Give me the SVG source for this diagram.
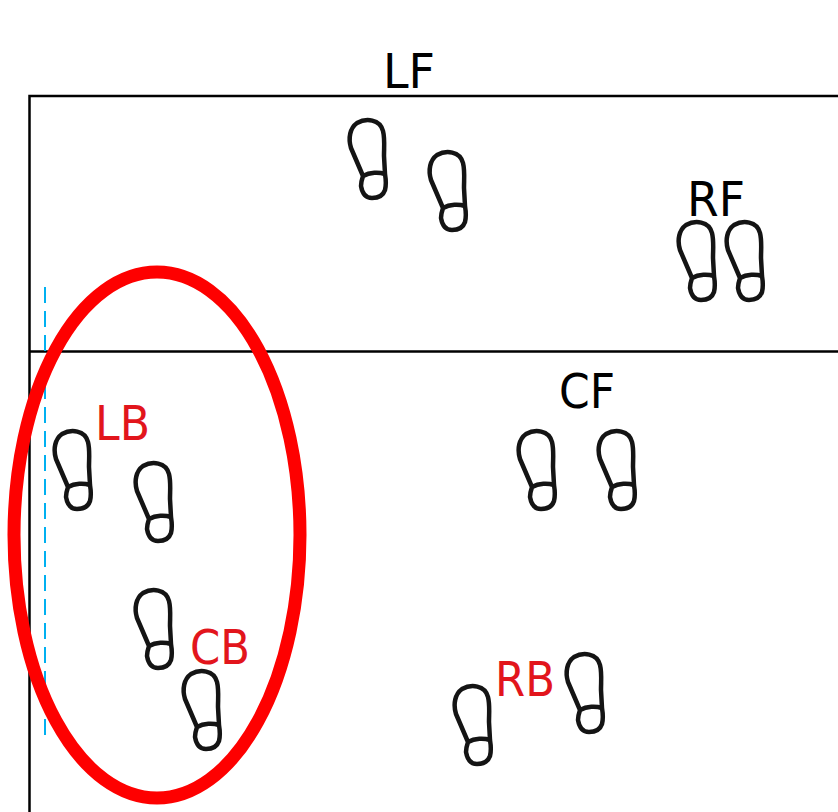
<svg xmlns="http://www.w3.org/2000/svg" xmlns:xlink="http://www.w3.org/1999/xlink" width="838" height="812" viewBox="0 0 838 812">
<style>
.t{font-family:"DejaVu Sans","Liberation Sans",sans-serif;font-size:48px;text-anchor:middle}
.k{fill:#000}.r{fill:#e2151c}
.s{fill:none;stroke:#141414;stroke-width:4.500;stroke-linejoin:round;stroke-linecap:round}
.l{fill:none;stroke:#000;stroke-width:2.500}
</style>
<defs>
<g id="shoe" class="s">
<path d="M14,56 L2,28 C-1,18 1,8 8,3 C17,-2 31,-1 34,11 C36,19 35,27 35,36 L36,54 C37,60 37,66 36,70 C34,76 29,78 23,78 C16,78 13,72 12,66 C12,62 13,59 14,56 C21,52 30,52 36,54"/>
</g>
</defs>
<rect width="838" height="812" fill="#fff"/>
<g id="connectors">
<path class="l" d="M838,96 H29.500 V812"/>
<path class="l" d="M29.500,351.500 H838"/>
<path fill="none" stroke="#00b0f0" stroke-width="2" stroke-dasharray="16 8" d="M45,287 V736"/>
</g>
<g id="lf"><use xlink:href="#shoe" x="349" y="120"/><use xlink:href="#shoe" x="429" y="152"/><text class="t k" x="409" y="88" textLength="52" lengthAdjust="spacingAndGlyphs">LF</text></g>
<g id="rf"><use xlink:href="#shoe" x="678" y="222"/><use xlink:href="#shoe" x="726" y="222"/><text class="t k" x="716" y="216" textLength="58" lengthAdjust="spacingAndGlyphs">RF</text></g>
<g id="cf"><use xlink:href="#shoe" x="518" y="431"/><use xlink:href="#shoe" x="598" y="431"/><text class="t k" x="587" y="408" textLength="56" lengthAdjust="spacingAndGlyphs">CF</text></g>
<g id="lb"><use xlink:href="#shoe" x="54" y="431"/><use xlink:href="#shoe" x="135" y="463"/><text class="t r" x="122.500" y="440" textLength="55" lengthAdjust="spacingAndGlyphs">LB</text></g>
<g id="cb"><use xlink:href="#shoe" x="135" y="590"/><use xlink:href="#shoe" x="183" y="671"/><text class="t r" x="220" y="664" textLength="60" lengthAdjust="spacingAndGlyphs">CB</text></g>
<g id="rb"><use xlink:href="#shoe" x="454" y="686"/><use xlink:href="#shoe" x="566" y="654"/><text class="t r" x="525" y="696" textLength="60" lengthAdjust="spacingAndGlyphs">RB</text></g>
<g id="highlight"><ellipse cx="157" cy="535" rx="143" ry="263" fill="none" stroke="#fe0000" stroke-width="13"/></g>
</svg>
